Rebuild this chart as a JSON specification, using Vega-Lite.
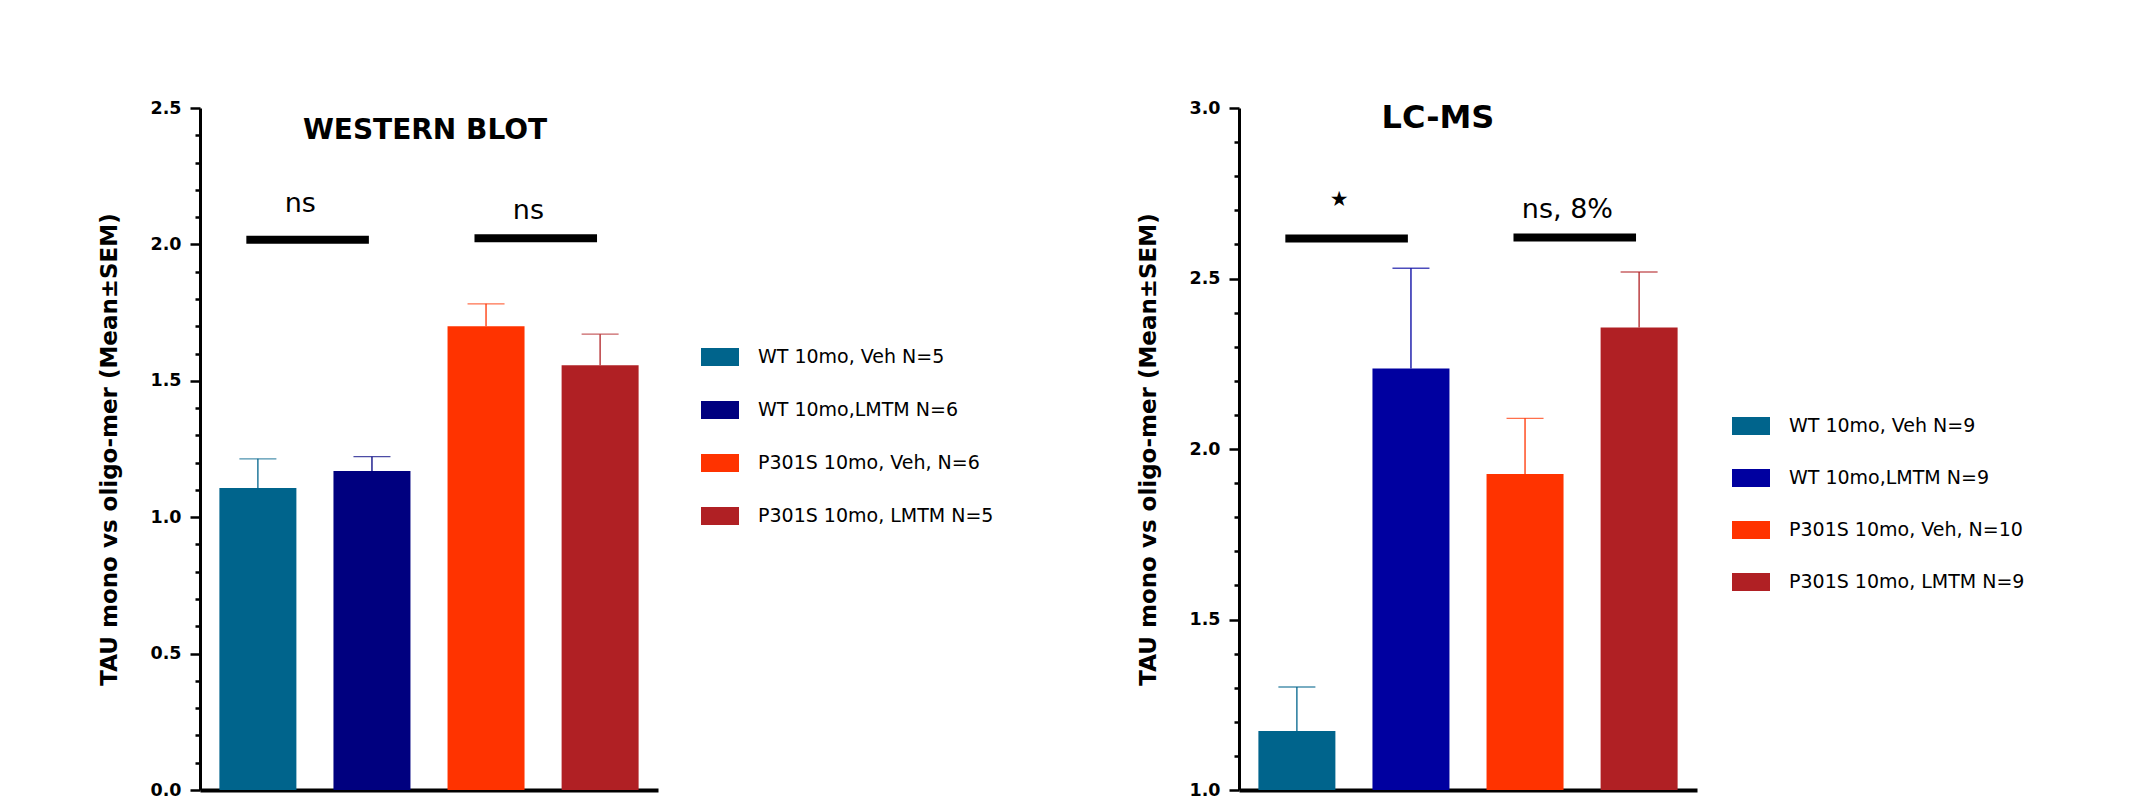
{
  "$schema": "https://vega.github.io/schema/vega-lite/v6.json",
  "background": "white",
  "padding": {"left": 98, "top": 99, "right": 10, "bottom": 5},
  "datasets": {
    "wb_bars": [
      {"group": "WT 10mo, Veh N=5", "mean": 1.107, "upper": 1.214},
      {"group": "WT 10mo,LMTM N=6", "mean": 1.169, "upper": 1.222},
      {"group": "P301S 10mo, Veh, N=6", "mean": 1.70, "upper": 1.782},
      {"group": "P301S 10mo, LMTM N=5", "mean": 1.557, "upper": 1.671}
    ],
    "wb_sig": [
      {"from": "WT 10mo, Veh N=5", "to": "WT 10mo,LMTM N=6", "bar": 2.017, "label": "ns", "labelY": 2.148},
      {"from": "P301S 10mo, Veh, N=6", "to": "P301S 10mo, LMTM N=5", "bar": 2.023, "label": "ns", "labelY": 2.122}
    ],
    "lc_bars": [
      {"group": "WT 10mo, Veh N=9", "mean": 1.173, "upper": 1.302},
      {"group": "WT 10mo,LMTM N=9", "mean": 2.236, "upper": 2.530},
      {"group": "P301S 10mo, Veh, N=10", "mean": 1.927, "upper": 2.090},
      {"group": "P301S 10mo, LMTM N=9", "mean": 2.356, "upper": 2.519}
    ],
    "lc_sig": [
      {"from": "WT 10mo, Veh N=9", "to": "WT 10mo,LMTM N=9", "bar": 2.617, "label": "★", "labelY": 2.731},
      {"from": "P301S 10mo, Veh, N=10", "to": "P301S 10mo, LMTM N=9", "bar": 2.62, "label": "ns, 8%", "labelY": 2.70}
    ]
  },
  "hconcat": [
    {
      "width": 458,
      "height": 682,
      "title": {"text": "WESTERN BLOT", "frame": "group", "anchor": "middle", "orient": "top", "offset": -60, "baseline": "middle", "dx": -4, "font": "DejaVu Sans", "fontSize": 28, "fontWeight": "bold", "color": "black"},
      "layer": [
        {
          "data": {"name": "wb_bars"},
          "mark": {"type": "bar"},
          "encoding": {
            "x": {"field": "group", "type": "nominal", "sort": null, "title": null,
              "scale": {"domain": ["WT 10mo, Veh N=5", "WT 10mo,LMTM N=6", "P301S 10mo, Veh, N=6", "P301S 10mo, LMTM N=5"], "paddingInner": 0.325, "paddingOuter": 0.17},
              "axis": {"title": null, "labels": false, "ticks": false, "domainColor": "black", "domainWidth": 4, "grid": false}},
            "y": {"field": "mean", "type": "quantitative",
              "scale": {"domain": [0, 2.5], "nice": false},
              "axis": {"title": "TAU mono vs oligo-mer (Mean±SEM)",
                "values": [0,0.1,0.2,0.3,0.4,0.5,0.6,0.7,0.8,0.9,1,1.1,1.2,1.3,1.4,1.5,1.6,1.7,1.8,1.9,2,2.1,2.2,2.3,2.4,2.5],
                "tickCount": 100,
                "labelExpr": "abs(datum.value*2-round(datum.value*2))<0.01 ? format(datum.value,'.1f') : ''",
                "tickSize": {"condition": {"test": "abs(datum.value*2-round(datum.value*2))<0.01", "value": 10}, "value": 5},
                "tickWidth": 2.5, "tickColor": "black", "domainColor": "black", "domainWidth": 3,
                "labelFont": "DejaVu Sans", "labelFontWeight": "bold", "labelFontSize": 17.5, "labelColor": "black", "labelPadding": 9,
                "titleFont": "DejaVu Sans", "titleFontWeight": "bold", "titleFontSize": 23, "titleColor": "black", "titlePadding": 28,
                "grid": false, "labelFlush": false, "labelOverlap": false}},
            "color": {"field": "group", "type": "nominal", "sort": null,
              "scale": {"domain": ["WT 10mo, Veh N=5", "WT 10mo,LMTM N=6", "P301S 10mo, Veh, N=6", "P301S 10mo, LMTM N=5"], "range": ["#00648C", "#00007F", "#FF3300", "#B02024"]},
              "legend": {"orient": "none", "legendX": 501, "legendY": 230, "title": null, "symbolType": "M-1,-0.47H1V0.47H-1Z", "symbolSize": 1444, "symbolStrokeWidth": 0, "symbolOpacity": 1, "labelFont": "DejaVu Sans", "labelFontSize": 19, "labelColor": "black", "labelOffset": 19, "rowPadding": 24, "labelLimit": 500}}
          }
        },
        {
          "data": {"name": "wb_bars"},
          "mark": {"type": "rule", "strokeWidth": 1.3},
          "encoding": {
            "x": {"field": "group", "type": "nominal", "sort": null},
            "y": {"field": "mean", "type": "quantitative"},
            "y2": {"field": "upper"},
            "color": {"field": "group", "type": "nominal", "sort": null, "legend": null}
          }
        },
        {
          "data": {"name": "wb_bars"},
          "mark": {"type": "tick", "size": 37, "thickness": 1.3},
          "encoding": {
            "x": {"field": "group", "type": "nominal", "sort": null},
            "y": {"field": "upper", "type": "quantitative"},
            "color": {"field": "group", "type": "nominal", "sort": null, "legend": null}
          }
        },
        {
          "data": {"name": "wb_sig"},
          "mark": {"type": "rule", "strokeWidth": 8, "color": "black", "strokeCap": "butt"},
          "encoding": {
            "x": {"field": "from", "type": "nominal", "bandPosition": 0.35},
            "x2": {"field": "to", "bandPosition": 0.46},
            "y": {"field": "bar", "type": "quantitative"}
          }
        },
        {
          "data": {"name": "wb_sig"},
          "mark": {"type": "text", "font": "DejaVu Sans", "fontSize": 27, "color": "black", "baseline": "middle", "align": "center"},
          "encoding": {
            "x": {"field": "from", "type": "nominal", "bandPosition": 1.05},
            "y": {"field": "labelY", "type": "quantitative"},
            "text": {"field": "label"}
          }
        }
      ]
    },
    {
      "width": 458,
      "height": 682,
      "title": {"text": "LC-MS", "frame": "group", "anchor": "middle", "orient": "top", "offset": -51, "baseline": "middle", "dx": -30, "font": "DejaVu Sans", "fontSize": 32, "fontWeight": "bold", "color": "black"},
      "layer": [
        {
          "data": {"name": "lc_bars"},
          "mark": {"type": "bar"},
          "encoding": {
            "x": {"field": "group", "type": "nominal", "sort": null, "title": null,
              "scale": {"domain": ["WT 10mo, Veh N=9", "WT 10mo,LMTM N=9", "P301S 10mo, Veh, N=10", "P301S 10mo, LMTM N=9"], "paddingInner": 0.325, "paddingOuter": 0.17},
              "axis": {"title": null, "labels": false, "ticks": false, "domainColor": "black", "domainWidth": 4, "grid": false}},
            "y": {"field": "mean", "type": "quantitative",
              "scale": {"domain": [1, 3], "nice": false, "zero": false},
              "axis": {"title": "TAU mono vs oligo-mer (Mean±SEM)",
                "values": [1,1.1,1.2,1.3,1.4,1.5,1.6,1.7,1.8,1.9,2,2.1,2.2,2.3,2.4,2.5,2.6,2.7,2.8,2.9,3],
                "tickCount": 100,
                "labelExpr": "abs(datum.value*2-round(datum.value*2))<0.01 ? format(datum.value,'.1f') : ''",
                "tickSize": {"condition": {"test": "abs(datum.value*2-round(datum.value*2))<0.01", "value": 10}, "value": 5},
                "tickWidth": 2.5, "tickColor": "black", "domainColor": "black", "domainWidth": 3,
                "labelFont": "DejaVu Sans", "labelFontWeight": "bold", "labelFontSize": 17.5, "labelColor": "black", "labelPadding": 9,
                "titleFont": "DejaVu Sans", "titleFontWeight": "bold", "titleFontSize": 23, "titleColor": "black", "titlePadding": 28,
                "grid": false, "labelFlush": false, "labelOverlap": false}},
            "y2": {"datum": 1},
            "color": {"field": "group", "type": "nominal", "sort": null,
              "scale": {"domain": ["WT 10mo, Veh N=9", "WT 10mo,LMTM N=9", "P301S 10mo, Veh, N=10", "P301S 10mo, LMTM N=9"], "range": ["#00648C", "#0000A0", "#FF3300", "#B02024"]},
              "legend": {"orient": "none", "legendX": 493, "legendY": 299, "title": null, "symbolType": "M-1,-0.47H1V0.47H-1Z", "symbolSize": 1444, "symbolStrokeWidth": 0, "symbolOpacity": 1, "labelFont": "DejaVu Sans", "labelFontSize": 19, "labelColor": "black", "labelOffset": 19, "rowPadding": 23, "labelLimit": 500}}
          }
        },
        {
          "data": {"name": "lc_bars"},
          "mark": {"type": "rule", "strokeWidth": 1.3},
          "encoding": {
            "x": {"field": "group", "type": "nominal", "sort": null},
            "y": {"field": "mean", "type": "quantitative"},
            "y2": {"field": "upper"},
            "color": {"field": "group", "type": "nominal", "sort": null, "legend": null}
          }
        },
        {
          "data": {"name": "lc_bars"},
          "mark": {"type": "tick", "size": 37, "thickness": 1.3},
          "encoding": {
            "x": {"field": "group", "type": "nominal", "sort": null},
            "y": {"field": "upper", "type": "quantitative"},
            "color": {"field": "group", "type": "nominal", "sort": null, "legend": null}
          }
        },
        {
          "data": {"name": "lc_sig"},
          "mark": {"type": "rule", "strokeWidth": 8, "color": "black", "strokeCap": "butt"},
          "encoding": {
            "x": {"field": "from", "type": "nominal", "bandPosition": 0.35},
            "x2": {"field": "to", "bandPosition": 0.46},
            "y": {"field": "bar", "type": "quantitative"}
          }
        },
        {
          "data": {"name": "lc_sig"},
          "mark": {"type": "text", "font": "DejaVu Sans", "color": "black", "baseline": "middle", "align": "center"},
          "encoding": {
            "x": {"field": "from", "type": "nominal", "bandPosition": 1.05},
            "y": {"field": "labelY", "type": "quantitative"},
            "text": {"field": "label"},
            "size": {"condition": {"test": "datum.label === '★'", "value": 21}, "value": 27}
          }
        }
      ]
    }
  ],
  "spacing": 581,
  "bounds": "flush",
  "resolve": {"scale": {"x": "independent", "y": "independent", "color": "independent"}, "legend": {"color": "independent"}},
  "config": {"view": {"stroke": null}, "font": "DejaVu Sans"}
}
